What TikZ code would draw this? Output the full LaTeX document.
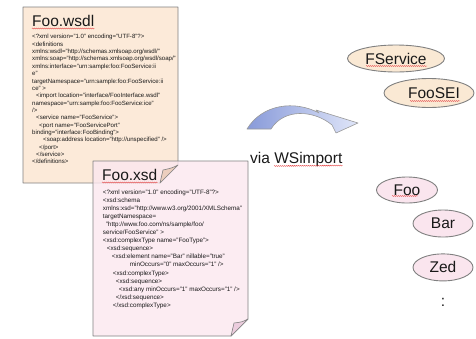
\documentclass[tikz,border=0pt]{standalone}
\usepackage{fontspec}
\setmainfont{Liberation Sans}
\usepackage{xcolor}
\usetikzlibrary{shapes.geometric, positioning, decorations.pathmorphing}
\definecolor{wsdlpeach}{RGB}{252,234,217}
\definecolor{xsdpink}{RGB}{251,231,239}
\definecolor{classpeach}{RGB}{250,233,212}
\definecolor{classpink}{RGB}{250,229,238}
\definecolor{foldpeach}{RGB}{236,206,190}
\definecolor{foldpink}{RGB}{236,205,222}
\definecolor{edgegray}{RGB}{128,128,128}
\definecolor{arrowblue}{RGB}{136,154,217}
\definecolor{arrowlight}{RGB}{224,230,249}
\definecolor{spellred}{RGB}{228,70,70}
\definecolor{inkblack}{RGB}{25,25,25}

\begin{document}
\begin{tikzpicture}[
    x=1pt, y=-1pt,
    doc/.style={draw=edgegray, line width=0.8pt, line join=round},
    fold/.style={draw=edgegray, line width=0.6pt, line join=round},
    doctitle/.style={anchor=base west, inner sep=0, text=inkblack, font=\fontsize{15.5}{18}\selectfont},
    code/.style={anchor=north west, inner sep=0, align=left, text=inkblack},
    javaclass/.style={ellipse, draw=edgegray, line width=0.9pt, minimum width=60pt, minimum height=27pt, inner sep=0, text=inkblack, font=\fontsize{15.5}{18}\selectfont},
    squiggle/.style={spellred, line width=0.4pt, decorate, decoration={snake, amplitude=0.5pt, segment length=2pt}}
]
\useasboundingbox (0,0) rectangle (476,338);

% WSDL document
\draw[doc, fill=wsdlpeach] (23,7) -- (178,7) -- (178,165) -- (160,183) -- (23,183) -- cycle;
\node[doctitle] (wsdltitle) at (32,26) {Foo.wsdl};
\node[code, font=\fontsize{6.1}{7.35}\selectfont] (wsdlcode) at (32,34.3) {%
<?xml version="1.0" encoding="UTF-8"?>\\
<definitions\\
xmlns:wsdl="http://schemas.xmlsoap.org/wsdl/"\\
xmlns:soap="http://schemas.xmlsoap.org/wsdl/soap/"\\
xmlns:interface="urn:sample:foo:FooService:ii\\
e"\\
targetNamespace="urn:sample:foo:FooService:ii\\
ce" >\\
\hspace*{4pt}<import location="interface/FooInterface.wsdl"\\
namespace="urn:sample:foo:FooService:ice"\\
/>\\
\hspace*{4pt}<service name="FooService">\\
\hspace*{7pt}<port name="FooServicePort"\\
binding="interface:FooBinding">\\
\hspace*{11pt}<soap:address location="http://unspecified" />\\
\hspace*{7pt}</port>\\
\hspace*{4pt}</service>\\
</definitions>};

% XSD document
\draw[doc, fill=xsdpink, fill opacity=0.8] (93,161) -- (248,161) -- (248,319) -- (231,336) -- (93,336) -- cycle;
\draw[fold, fill=foldpeach] (178,165) .. controls (172,168) .. (163,170) -- (160,183) -- cycle;
\draw[fold, fill=foldpink] (248,319) .. controls (242,322) .. (234,323) -- (231,336) -- cycle;
\node[doctitle] (xsdtitle) at (102,180) {Foo.xsd};
\node[code, font=\fontsize{6.3}{8.1}\selectfont] (xsdcode) at (102.7,189.3) {%
<?xml version="1.0" encoding="UTF-8"?>\\
<xsd:schema\\
xmlns:xsd="http://www.w3.org/2001/XMLSchema"\\
targetNamespace=\\
\hspace*{3pt}"http://www.foo.com/ns/sample/foo/\\
service/FooService" >\\
<xsd:complexType name="FooType">\\
\hspace*{4pt}<xsd:sequence>\\
\hspace*{9pt}<xsd:element name="Bar" nillable="true"\\
\hspace*{27pt}minOccurs="0" maxOccurs="1" />\\
\hspace*{10pt}<xsd:complexType>\\
\hspace*{13pt}<xsd:sequence>\\
\hspace*{16pt}<xsd:any minOccurs="1" maxOccurs="1" />\\
\hspace*{13pt}</xsd:sequence>\\
\hspace*{10pt}</xsd:complexType>};

% Curved arrow
\draw[draw=edgegray!80, line width=0.6pt, line join=round, left color=arrowblue, right color=arrowlight]
    (247,129) .. controls (262,104) and (295,100) .. (319,113)
    -- (316,110) -- (358,123) -- (336,133) -- (332,125)
    .. controls (314,110) and (284,108) .. (271,129) -- cycle;
\node[anchor=base west, inner sep=0, text=inkblack, font=\fontsize{15.5}{18}\selectfont] (viawsimport) at (250,163) {via WSimport};

% Generated classes
\node[javaclass, fill=classpeach, minimum width=97pt] (fservice) at (396,58.5) {FService};
\node[javaclass, fill=classpeach, minimum width=90pt, minimum height=29pt] (foosei) at (429,93) {\hspace*{10pt}FooSEI};
\node[javaclass, fill=classpink, minimum width=61pt, minimum height=26pt] (foo) at (407,190) {Foo};
\node[javaclass, fill=classpink] (bar) at (443,223.5) {Bar};
\node[javaclass, fill=classpink, below=16pt of bar] (zed) {Zed};
\node[inner sep=0, text=inkblack, font=\fontsize{15.5}{18}\selectfont, below=17pt of zed] (more) {:};

% Spelling marks
\draw[squiggle] ([yshift=-2.5pt]wsdltitle.base west) -- ([yshift=-2.5pt]wsdltitle.base east);
\draw[squiggle] ([yshift=-2.5pt]xsdtitle.base west) -- ([yshift=-2.5pt]xsdtitle.base east);
\draw[squiggle] (274,166) -- ([yshift=-2.5pt]viawsimport.base east);
\draw[squiggle] (366,66) -- (427,66);
\draw[squiggle] (410,101) -- (460,101);
\draw[squiggle] (392,196) -- (418,196);
\end{tikzpicture}
\end{document}
